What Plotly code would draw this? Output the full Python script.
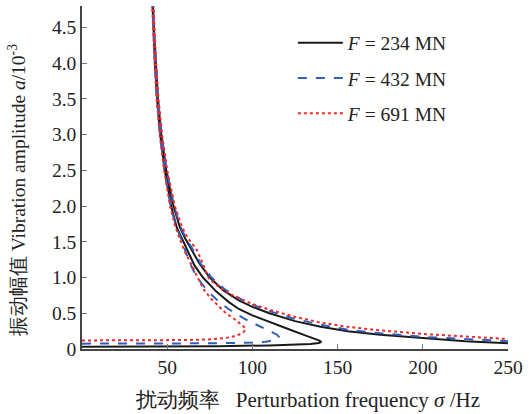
import plotly.graph_objects as go

# Perturbation frequency sigma (Hz) and vibration amplitude a (x1e-3).
# Each curve is traced: lower branch -> turning point -> inner branch up -> outer branch down.
sigma_234 = [0, 40, 80, 110, 125, 134, 139, 140.5,
             139, 137, 131, 121, 111, 100, 92, 86, 79, 71, 66, 61.8, 58.5, 55.6, 52.3, 48.6, 45.9, 44.05, 42.8, 41.85, 41.35,
             41.65, 42.15, 43.2, 44.55, 46.55, 49.45, 53.7, 57.5, 60.5, 64.7, 68.8, 75, 83, 92, 100, 110, 125, 140, 156, 175, 200, 225, 250]
amp_234 = [0.03, 0.033, 0.04, 0.05, 0.06, 0.07, 0.085, 0.1,
           0.12, 0.14, 0.19, 0.28, 0.37, 0.47, 0.56, 0.66, 0.8, 1.0, 1.17, 1.38, 1.55, 1.7, 2.0, 2.5, 3.0, 3.5, 4.0, 4.5, 4.85,
           4.85, 4.5, 4.0, 3.5, 3.0, 2.5, 2.0, 1.7, 1.55, 1.38, 1.2, 1.0, 0.82, 0.68, 0.59, 0.5, 0.39, 0.31, 0.25, 0.2, 0.15, 0.11, 0.08]

sigma_432 = [0, 50, 80, 100, 108, 112, 114.5, 115.5,
             114.5, 112, 105, 98, 92, 86, 80, 75, 70, 66, 63, 60.8, 58, 55.2, 52, 48.4, 45.8, 44, 42.75, 41.8, 41.3,
             41.7, 42.2, 43.3, 44.65, 46.7, 49.7, 54, 58, 61, 65.4, 69.5, 76, 84, 93, 100, 110, 125, 140, 156, 175, 200, 225, 250]
amp_432 = [0.075, 0.075, 0.08, 0.09, 0.1, 0.12, 0.14, 0.17,
           0.2, 0.23, 0.31, 0.39, 0.47, 0.56, 0.67, 0.78, 0.92, 1.07, 1.22, 1.38, 1.55, 1.72, 2.0, 2.5, 3.0, 3.5, 4.0, 4.5, 4.85,
           4.85, 4.5, 4.0, 3.5, 3.0, 2.5, 2.0, 1.7, 1.55, 1.38, 1.2, 1.0, 0.83, 0.7, 0.62, 0.53, 0.42, 0.34, 0.27, 0.22, 0.17, 0.135, 0.11]

sigma_691 = [0, 40, 60, 75, 83, 88, 92, 94.5, 96,
             95.5, 93.5, 90, 84.5, 80, 75.5, 71.5, 68.8, 65, 62.3, 60, 57.3, 54.7, 51.7, 48.2, 45.6, 43.8, 42.6, 41.6, 41.1,
             41.9, 42.45, 43.5, 44.9, 47, 50, 54.5, 58.8, 62.2, 67.6, 71.5, 74.6, 82, 90, 100, 110, 125, 140, 156, 175, 200, 225, 250]
amp_691 = [0.12, 0.12, 0.125, 0.135, 0.15, 0.17, 0.2, 0.23, 0.27,
           0.3, 0.34, 0.41, 0.5, 0.6, 0.71, 0.83, 0.96, 1.12, 1.27, 1.38, 1.55, 1.72, 2.0, 2.5, 3.0, 3.5, 4.0, 4.5, 4.85,
           4.85, 4.5, 4.0, 3.5, 3.0, 2.5, 2.0, 1.7, 1.55, 1.38, 1.17, 0.98, 0.84, 0.73, 0.63, 0.55, 0.45, 0.37, 0.31, 0.26, 0.21, 0.17, 0.14]

series_names = ["<i>F</i> = 234 MN", "<i>F</i> = 432 MN", "<i>F</i> = 691 MN"]
x_ticks = [50, 100, 150, 200, 250]
y_ticks = [0, 0.5, 1.0, 1.5, 2.0, 2.5, 3.0, 3.5, 4.0, 4.5]
y_ticktext = ["0", "0.5", "1.0", "1.5", "2.0", "2.5", "3.0", "3.5", "4.0", "4.5"]

FONT = "Liberation Serif, Times New Roman, serif"
FS = 19.5

fig = go.Figure()
styles = [
    dict(color="#1a1a1a", width=2, dash="solid"),
    dict(color="#2f5fbd", width=2, dash="dash"),
    dict(color="#ee2a2a", width=2, dash="dot"),
]
for i, (xs, ys) in enumerate([(sigma_234, amp_234), (sigma_432, amp_432), (sigma_691, amp_691)]):
    fig.add_trace(go.Scatter(x=xs, y=ys, mode="lines", name=series_names[i],
                             line=styles[i], legendgroup=str(i)))

fig.update_layout(
    width=529, height=414,
    margin=dict(l=82, r=18, t=6, b=65),
    plot_bgcolor="white", paper_bgcolor="white",
    font=dict(family=FONT, size=FS, color="#222"),
    showlegend=True,
    legend=dict(x=0.495, y=0.949, xanchor="left", yanchor="top", itemwidth=45,
                bgcolor="rgba(0,0,0,0)", font=dict(family=FONT, size=FS, color="#222"),
                tracegroupgap=7, traceorder="grouped"),
    xaxis=dict(range=[0, 250], tickvals=x_ticks, ticks="inside", ticklen=5,
               tickcolor="#777", showline=True, linecolor="#444", linewidth=1.5,
               showgrid=False, zeroline=False, mirror=False,
               tickfont=dict(family=FONT, size=FS, color="#222")),
    yaxis=dict(range=[0, 4.8], tickvals=y_ticks, ticktext=y_ticktext, ticks="inside", ticklen=5,
               tickcolor="#777", showline=True, linecolor="#444", linewidth=1.5,
               showgrid=False, zeroline=False, mirror=False,
               tickfont=dict(family=FONT, size=FS, color="#222")),
    annotations=[
        dict(text="扰动频率   Perturbation frequency <i>σ</i> /Hz", xref="paper", yref="paper",
             x=0.529, y=-0.149, xanchor="center", yanchor="middle", showarrow=False,
             font=dict(family=FONT, size=21, color="#222")),
        dict(text="振动幅值 Vibration amplitude <i>a</i>/10<sup>-3</sup>", xref="paper", yref="paper",
             x=-0.154, y=0.464, xanchor="center", yanchor="middle", textangle=-90, showarrow=False,
             font=dict(family=FONT, size=FS, color="#222")),
    ],
)

fig.write_html("out.html", config={"displayModeBar": False},
               post_script="document.body.style.margin='0px';")
